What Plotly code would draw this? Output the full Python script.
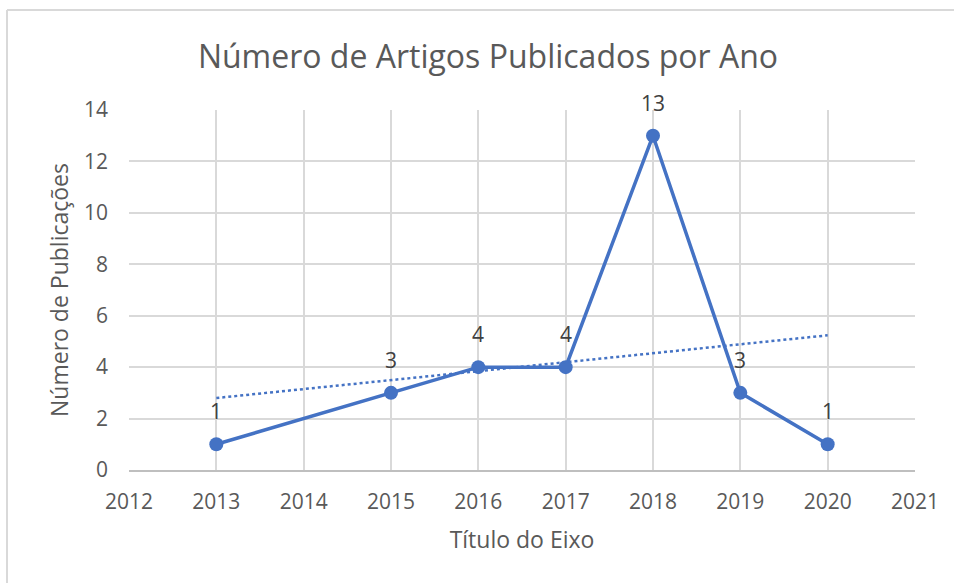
import numpy as np
import plotly.graph_objects as go

anos = [2013, 2015, 2016, 2017, 2018, 2019, 2020]
publicacoes = [1, 3, 4, 4, 13, 3, 1]
x_ticks = [2012, 2013, 2014, 2015, 2016, 2017, 2018, 2019, 2020, 2021]
y_ticks = [0, 2, 4, 6, 8, 10, 12, 14]

titulo = "Número de Artigos Publicados por Ano"
titulo_x = "Título do Eixo"
titulo_y = "Número de Publicações"

azul = "#4472C4"
cinza_txt = "#595959"
FONT = "Open Sans"

# linear trendline (least squares) as in Excel
coef = np.polyfit(anos, publicacoes, 1)
trend_x = [anos[0], anos[-1]]
trend_y = list(np.polyval(coef, trend_x))

fig = go.Figure()
fig.add_trace(go.Scatter(
    x=anos, y=publicacoes, mode="lines+markers",
    line=dict(color=azul, width=3.5),
    marker=dict(color=azul, size=14),
    showlegend=False, hoverinfo="x+y",
))
fig.add_trace(go.Scatter(
    x=trend_x, y=trend_y, mode="lines",
    line=dict(color=azul, width=2.5, dash="dot"),
    showlegend=False, hoverinfo="skip",
))

for xv, yv in zip(anos, publicacoes):
    fig.add_annotation(x=xv, y=yv, text=str(yv), showarrow=False,
                       yshift=33, font=dict(family=FONT, size=21, color="#404040"))

# chart border (top and left visible)
fig.add_shape(type="line", xref="paper", yref="paper", x0=-0.1552, x1=1.07, y0=1.2778, y1=1.2778,
              line=dict(color="#D9D9D9", width=2))
fig.add_shape(type="line", xref="paper", yref="paper", x0=-0.1552, x1=-0.1552, y0=-0.4, y1=1.2778,
              line=dict(color="#D9D9D9", width=2))

fig.update_layout(
    width=954, height=583,
    margin=dict(l=129, r=39, t=110, b=113),
    paper_bgcolor="white", plot_bgcolor="white",
    font=dict(family=FONT, color=cinza_txt),
    title=dict(text=titulo, x=488 / 954, xanchor="center", y=1 - 57 / 583, yanchor="middle",
               font=dict(family=FONT, size=32, color=cinza_txt)),
    xaxis=dict(
        range=[2012, 2021], tickvals=x_ticks, ticktext=[str(v) for v in x_ticks],
        showgrid=True, gridcolor="#D9D9D9", gridwidth=2,
        showline=True, linecolor="#BFBFBF", linewidth=2, mirror=False,
        zeroline=False, ticks="", ticklabelstandoff=12,
        tickfont=dict(family=FONT, size=21, color=cinza_txt),
        title=dict(text=titulo_x, font=dict(family=FONT, size=23, color=cinza_txt), standoff=18),
    ),
    yaxis=dict(
        range=[0, 14], tickvals=y_ticks,
        showgrid=True, gridcolor="#D9D9D9", gridwidth=2,
        showline=False, zeroline=False, ticks="", ticklabelstandoff=20,
        tickfont=dict(family=FONT, size=21, color=cinza_txt),
        title=dict(text=titulo_y, font=dict(family=FONT, size=23, color=cinza_txt), standoff=8),
    ),
)

fig.write_html("out.html", config={"displayModeBar": False},
               post_script="document.body.style.margin='0';")
